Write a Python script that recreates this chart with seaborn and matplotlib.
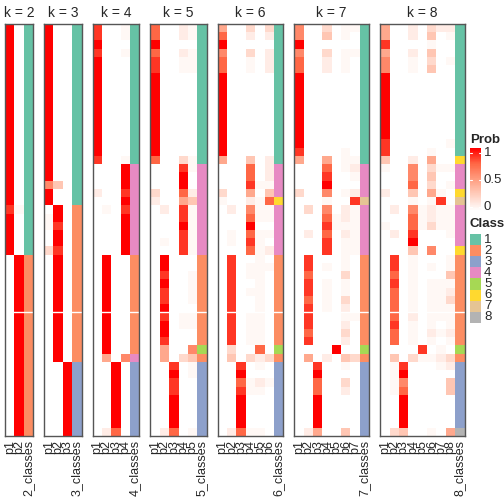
import numpy as np
import pandas as pd
import matplotlib
matplotlib.use("Agg")
import matplotlib.pyplot as plt
import seaborn as sns
from matplotlib.colors import LinearSegmentedColormap, ListedColormap

sns.set_theme(style="white")
plt.rcParams['font.family'] = ['Liberation Sans', 'DejaVu Sans']

# membership probabilities: one string per row (one digit per column = shade level), with repeat counts
k2_rows = [("90", 22), ("81", 1), ("90", 5), ("09", 22)]
k3_rows = [("900", 19), ("640", 1), ("900", 2), ("090", 1), ("190", 1), ("180", 1),
           ("090", 2), ("380", 1), ("090", 13), ("009", 9)]
k4_rows = [("8001", 2), ("9000", 1), ("8001", 1), ("9000", 12), ("8001", 1), ("0009", 3),
           ("2008", 1), ("0009", 1), ("0108", 1), ("0009", 5), ("0900", 12), ("0506", 1),
           ("0090", 8), ("0270", 1)]
k5_rows = [("70021", 2), ("90000", 1), ("70021", 1), ("80011", 2), ("90000", 10), ("70031", 1),
           ("00081", 1), ("00090", 2), ("30072", 1), ("20054", 1), ("02081", 1), ("00081", 1),
           ("00091", 1), ("00081", 1), ("01081", 1), ("00081", 1), ("09000", 2), ("08001", 1),
           ("09001", 1), ("08001", 2), ("09000", 1), ("08011", 1), ("09011", 1), ("09000", 1),
           ("08000", 1), ("05006", 1), ("05034", 1), ("00801", 1), ("00901", 1), ("00800", 2),
           ("00900", 4), ("02701", 1)]
k6_rows = [("500303", 1), ("700202", 1), ("900000", 1), ("600302", 1), ("700102", 2),
           ("900000", 10), ("500402", 1), ("000702", 2), ("000811", 1), ("300504", 1),
           ("100217", 1), ("020611", 1), ("000711", 1), ("000900", 1), ("010711", 1),
           ("010810", 1), ("000712", 1), ("080010", 1), ("080111", 1), ("080110", 1),
           ("080010", 1), ("080110", 1), ("080010", 2), ("080110", 4), ("030070", 1),
           ("040323", 1), ("008010", 1), ("009000", 1), ("007121", 1), ("008110", 1),
           ("009000", 4), ("027110", 1)]
k7_rows = [("6003011", 1), ("6004010", 1), ("9000000", 1), ("6003011", 1), ("7002010", 2),
           ("9000000", 9), ("8000010", 1), ("5005011", 1), ("0007012", 1), ("0008001", 1),
           ("0009000", 1), ("3006012", 1), ("0001008", 1), ("0306021", 1), ("0007121", 1),
           ("0008111", 1), ("0207021", 1), ("0008011", 2), ("0800010", 1), ("0801010", 1),
           ("0700030", 1), ("0801010", 2), ("0701030", 1), ("0801020", 1), ("0800011", 1),
           ("0800020", 1), ("0700030", 1), ("0800020", 1), ("0000900", 1), ("0502043", 1),
           ("0080010", 1), ("0090000", 1), ("0070030", 1), ("0070020", 1), ("0090000", 4),
           ("0250040", 1)]
k8_rows = [("50020322", 1), ("50020401", 1), ("80000100", 1), ("50020400", 1), ("60010301", 1),
           ("60010400", 1), ("90000000", 8), ("80000001", 1), ("80000100", 1), ("40020500", 1),
           ("10060311", 1), ("00060400", 1), ("00070301", 1), ("20040510", 1), ("00010180", 1),
           ("02061211", 1), ("00071211", 1), ("10071311", 1), ("02080001", 1), ("00090000", 1),
           ("00040600", 1), ("08010001", 1), ("08010101", 1), ("07010004", 1), ("08010111", 1),
           ("07010112", 1), ("07010113", 1), ("07010111", 1), ("07020111", 1), ("08010101", 1),
           ("07010212", 1), ("07010101", 1), ("00008010", 1), ("04031123", 1), ("01800012", 1),
           ("01900000", 1), ("01600004", 1), ("01700004", 1), ("00900000", 4), ("03400105", 1)]
levels = [0, 0.04, 0.1, 0.2, 0.3, 0.45, 0.6, 0.75, 0.87, 1.0]

# class of each row, as (class, count) runs
k2_cls = [(1, 28), (2, 22)]
k3_cls = [(1, 22), (2, 19), (3, 9)]
k4_cls = [(1, 17), (4, 11), (2, 12), (4, 1), (3, 9)]
k5_cls = [(1, 17), (4, 11), (2, 11), (5, 1), (2, 1), (3, 9)]
k6_cls = [(1, 17), (4, 4), (6, 1), (4, 6), (2, 11), (5, 1), (2, 1), (3, 9)]
k7_cls = [(1, 17), (4, 4), (7, 1), (4, 6), (2, 11), (5, 1), (2, 1), (3, 9)]
k8_cls = [(1, 16), (6, 1), (4, 3), (6, 1), (7, 1), (4, 5), (6, 1), (2, 11), (5, 1), (2, 1), (3, 8), (8, 1)]

prob_ticks = [0, 0.5, 1]
class_labels = ["1", "2", "3", "4", "5", "6", "7", "8"]

panels = {2: (k2_rows, k2_cls), 3: (k3_rows, k3_cls), 4: (k4_rows, k4_cls),
          5: (k5_rows, k5_cls), 6: (k6_rows, k6_cls), 7: (k7_rows, k7_cls), 8: (k8_rows, k8_cls)}


def expand(runs):
    out = []
    for v, n in runs:
        out += [v] * n
    return out


prob_cmap = LinearSegmentedColormap.from_list(
    "prob", [(0, "#ffffff"), (0.1, "#ffece5"), (0.25, "#ffcfbf"), (0.5, "#ff9e81"),
             (0.75, "#ff6846"), (1, "#ff0000")])
class_cmap = ListedColormap(sns.color_palette("Set2", 8))

W = H = 504
fig = plt.figure(figsize=(5.04, 5.04), dpi=100)
col_w, gap = 9.37, 11
top, bottom = 24, 436
left = 5

for k, (rows, cls) in panels.items():
    ncol = k + 1
    width = ncol * col_w
    ax = fig.add_axes([left / W, 1 - bottom / H, width / W, (bottom - top) / H])
    left += width + gap

    probs = np.array([[levels[int(c)] for c in s] for s in expand(rows)])
    classes = np.array(expand(cls), dtype=float)
    cols = [f"p{i + 1}" for i in range(k)] + [f"{k}_classes"]
    df = pd.DataFrame(np.column_stack([probs, classes]), columns=cols)

    mask_cls = np.zeros(df.shape, dtype=bool)
    mask_cls[:, -1] = True
    sns.heatmap(df, mask=mask_cls, cmap=prob_cmap, vmin=0, vmax=1, cbar=False, ax=ax)
    sns.heatmap(df, mask=~mask_cls, cmap=class_cmap, vmin=0.5, vmax=8.5, cbar=False, ax=ax)
    ax.axhline(35, color="white", lw=1)

    ax.set_xticks(np.arange(ncol) + 0.5)
    ax.set_xticklabels(cols, rotation=90, fontsize=9)
    ax.set_yticks([])
    ax.tick_params(length=0, pad=3)
    for sp in ax.spines.values():
        sp.set_visible(True)
        sp.set_color("#555555")
        sp.set_linewidth(1)
    ax.set_title(f"k = {k}", fontsize=10, pad=5)

# Prob legend
fig.text(470 / W, 1 - 140 / H, "Prob", fontsize=9.5, fontweight="bold", va="center", ha="left")
cax = fig.add_axes([470 / W, 1 - 211 / H, 11.3 / W, 63 / H])
grad = np.linspace(1, 0, 100)[:, None]
sns.heatmap(grad, cmap=prob_cmap, vmin=0, vmax=1, cbar=False, ax=cax,
            xticklabels=False, yticklabels=False)
for v, ypx in zip(prob_ticks, [207, 179.5, 152.6]):
    yy = (ypx - 148) / 63 * 100
    cax.plot([0, 0.2], [yy, yy], color="white", lw=0.8)
    cax.plot([0.8, 1], [yy, yy], color="white", lw=0.8)
    fig.text(484 / W, 1 - ypx / H, f"{v:g}", fontsize=9.5, va="center", ha="left")

# Class legend
fig.text(470 / W, 1 - 224 / H, "Class", fontsize=9.5, fontweight="bold", va="center", ha="left")
sq = 11.1
lax = fig.add_axes([470 / W, 1 - (234 + 8 * sq) / H, 11.3 / W, 8 * sq / H])
sns.heatmap(np.arange(1, 9)[:, None], cmap=class_cmap, vmin=0.5, vmax=8.5, cbar=False, ax=lax,
            xticklabels=False, yticklabels=False)
for i, lab in enumerate(class_labels):
    fig.text(484 / W, 1 - (234 + (i + 0.5) * sq) / H, lab, fontsize=9.5, va="center", ha="left")

fig.savefig("out.png", dpi=100)
